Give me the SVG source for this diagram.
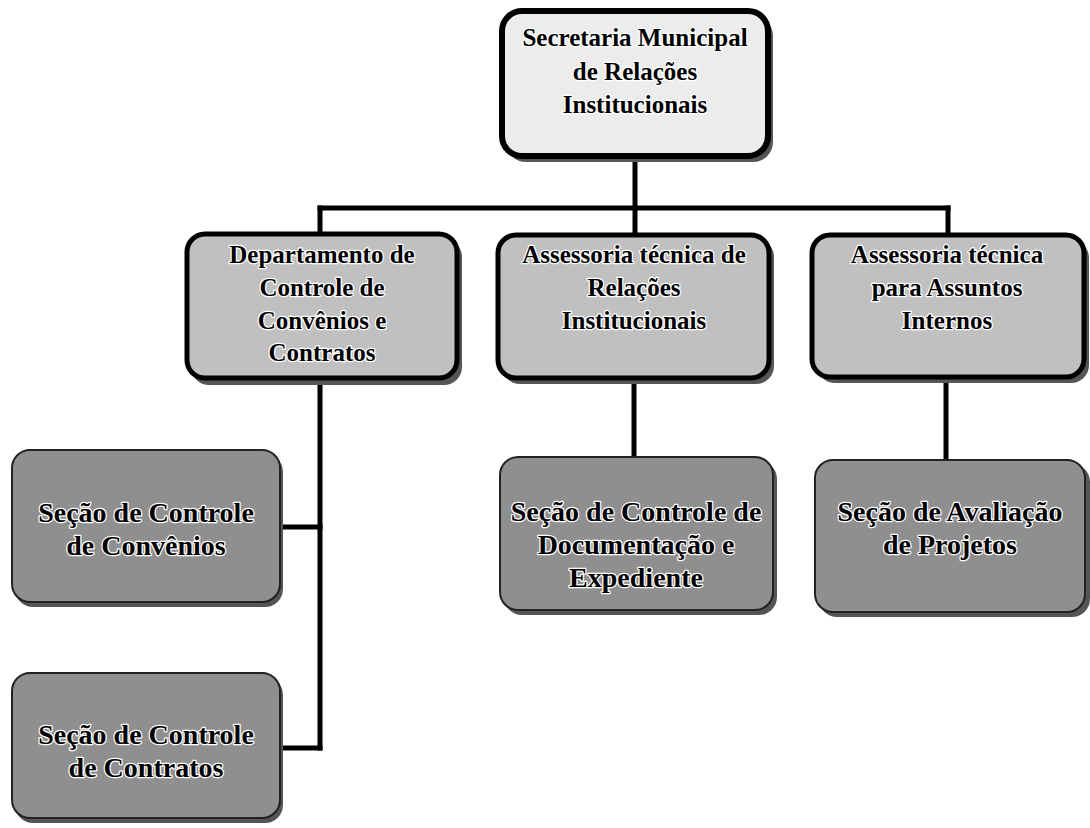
<svg xmlns="http://www.w3.org/2000/svg" width="1090" height="828" viewBox="0 0 1090 828">
<style>
.t{font-family:"Liberation Serif","Times New Roman",serif;font-size:25px;font-weight:bold;text-anchor:middle;fill:#000;stroke:#fff;stroke-width:2.5px;paint-order:stroke;stroke-linejoin:round}
.b{font-size:28px}
.top{fill:#ececec;stroke:#000;stroke-width:6}
.mid{fill:#c0c0c0;stroke:#000;stroke-width:5}
.bot{fill:#8f8f8f;stroke:#222;stroke-width:2}
.sh{fill:#555}
.c{stroke:#000;stroke-width:5;fill:none;stroke-linecap:square}
</style>
<rect width="1090" height="828" fill="#fff"/>
<g id="connectors">
<line class="c" x1="635" y1="155" x2="635" y2="233"/>
<line class="c" x1="320" y1="208" x2="948" y2="208"/>
<line class="c" x1="320" y1="208" x2="320" y2="233"/>
<line class="c" x1="948" y1="208" x2="948" y2="235"/>
<line class="c" x1="320" y1="378" x2="320" y2="748"/>
<line class="c" x1="282" y1="527" x2="320" y2="527"/>
<line class="c" x1="282" y1="748" x2="320" y2="748"/>
<line class="c" x1="634" y1="378" x2="634" y2="457"/>
<line class="c" x1="946" y1="378" x2="946" y2="460"/>
</g>
<g id="n-secretaria">
<rect class="sh" x="506" y="16" width="267" height="146" rx="20"/>
<rect class="top" x="502" y="11" width="266" height="145" rx="20"/>
<text class="t" x="635" y="46">Secretaria Municipal</text>
<text class="t" x="635" y="80">de Relações</text>
<text class="t" x="635" y="113">Institucionais</text>
</g>
<g id="n-departamento">
<rect class="sh" x="191" y="239" width="271" height="146" rx="18"/>
<rect class="mid" x="187" y="234" width="270" height="144" rx="18"/>
<text class="t" x="322" y="263">Departamento de</text>
<text class="t" x="322" y="296">Controle de</text>
<text class="t" x="322" y="329">Convênios e</text>
<text class="t" x="322" y="361">Contratos</text>
</g>
<g id="n-assessoria-relacoes">
<rect class="sh" x="502" y="239" width="272" height="145" rx="18"/>
<rect class="mid" x="498" y="235" width="271" height="143" rx="18"/>
<text class="t" x="634" y="263">Assessoria técnica  de</text>
<text class="t" x="634" y="296">Relações</text>
<text class="t" x="634" y="329">Institucionais</text>
</g>
<g id="n-assessoria-internos">
<rect class="sh" x="817" y="240" width="272" height="143" rx="18"/>
<rect class="mid" x="812" y="235" width="272" height="142" rx="18"/>
<text class="t" x="947" y="263">Assessoria técnica</text>
<text class="t" x="947" y="296">para Assuntos</text>
<text class="t" x="947" y="329">Internos</text>
</g>
<g id="n-convenios">
<rect class="sh" x="15" y="454" width="268" height="153" rx="18"/>
<rect class="bot" x="12" y="450" width="268" height="152" rx="18"/>
<text class="t b" x="146" y="522">Seção de Controle</text>
<text class="t b" x="146" y="555">de Convênios</text>
</g>
<g id="n-contratos">
<rect class="sh" x="15" y="677" width="268" height="146" rx="18"/>
<rect class="bot" x="12" y="673" width="268" height="145" rx="18"/>
<text class="t b" x="146" y="744">Seção de Controle</text>
<text class="t b" x="146" y="777">de Contratos</text>
</g>
<g id="n-documentacao">
<rect class="sh" x="504" y="461" width="273" height="154" rx="18"/>
<rect class="bot" x="500" y="457" width="273" height="153" rx="18"/>
<text class="t b" x="636" y="521">Seção de Controle de</text>
<text class="t b" x="636" y="554">Documentação e</text>
<text class="t b" x="636" y="587">Expediente</text>
</g>
<g id="n-avaliacao">
<rect class="sh" x="819" y="464" width="271" height="153" rx="18"/>
<rect class="bot" x="815" y="460" width="270" height="152" rx="18"/>
<text class="t b" x="950" y="521">Seção de Avaliação</text>
<text class="t b" x="950" y="554">de Projetos</text>
</g>
</svg>
